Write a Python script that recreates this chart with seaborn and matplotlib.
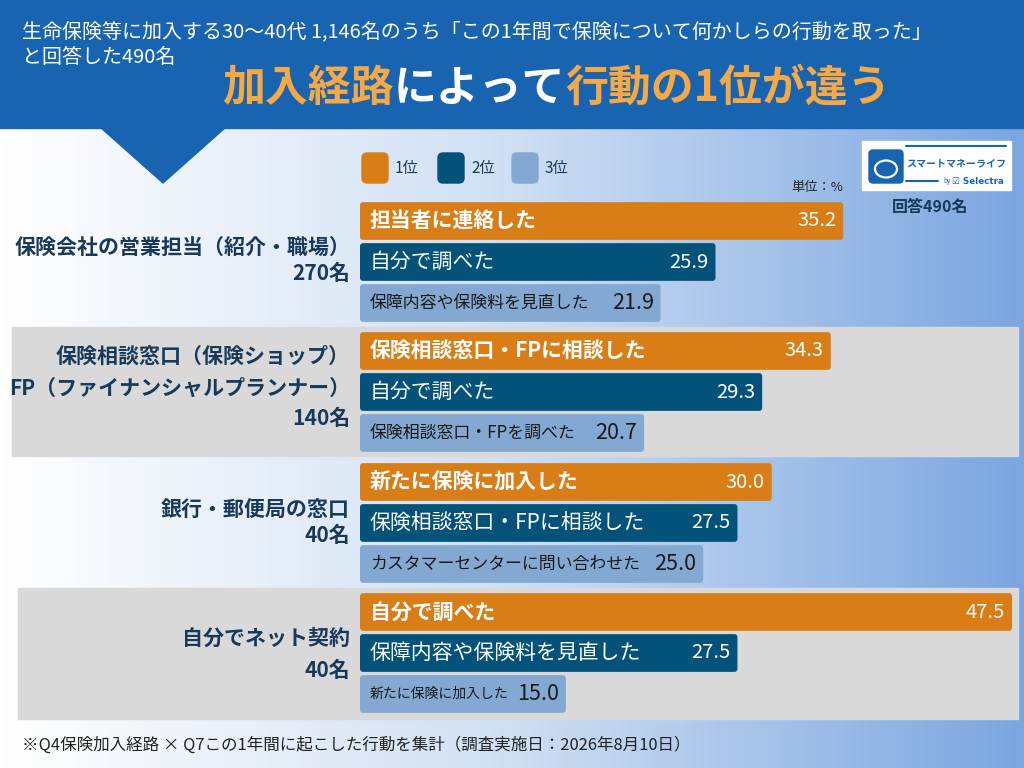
import matplotlib
matplotlib.use("Agg")
import numpy as np
import matplotlib.pyplot as plt
import seaborn as sns
from matplotlib.patches import Rectangle, Polygon, FancyBboxPatch

# data
ranks = ["1位", "2位", "3位"]
routes = [
    "保険会社の営業担当（紹介・職場）\n270名",
    "保険相談窓口（保険ショップ）\nFP（ファイナンシャルプランナー）\n140名",
    "銀行・郵便局の窓口\n40名",
    "自分でネット契約\n40名",
]
actions = [
    ["担当者に連絡した", "自分で調べた", "保障内容や保険料を見直した"],
    ["保険相談窓口・FPに相談した", "自分で調べた", "保険相談窓口・FPを調べた"],
    ["新たに保険に加入した", "保険相談窓口・FPに相談した", "カスタマーセンターに問い合わせた"],
    ["自分で調べた", "保障内容や保険料を見直した", "新たに保険に加入した"],
]
values = [
    [35.2, 25.9, 21.9],
    [34.3, 29.3, 20.7],
    [30.0, 27.5, 25.0],
    [47.5, 27.5, 15.0],
]

ORANGE = "#d97e17"
DARK = "#02527a"
LIGHT = "#83a9d2"
NAVY = "#173a5a"
HEADER = "#1864b1"
TITLE_OR = "#f5a843"
palette = dict(zip(ranks, [ORANGE, DARK, LIGHT]))

sns.set_theme(style="white")
plt.rcParams["font.family"] = ["Noto Sans CJK JP", "DejaVu Sans"]

W, H = 1024, 768
fig = plt.figure(figsize=(W / 100, H / 100), dpi=100)

# background layer in pixel coordinates
bg = fig.add_axes([0, 0, 1, 1])
bg.set_xlim(0, W)
bg.set_ylim(H, 0)
bg.axis("off")
grad = np.linspace(0, 1, 256)[None, :]
cmap = matplotlib.colors.LinearSegmentedColormap.from_list("bg", ["#ffffff", "#cfdff3", "#7ba6e0"])
bg.imshow(grad, cmap=cmap, extent=(0, W, H, 0), aspect="auto", zorder=0)

# header band + pointer
bg.add_patch(Rectangle((0, 0), W, 128, color=HEADER, zorder=1))
bg.add_patch(Polygon([(100, 127), (226, 127), (163, 183)], color=HEADER, zorder=1))
bg.text(22, 32, "生命保険等に加入する30〜40代 1,146名のうち「この1年間で保険について何かしらの行動を取った」",
        color="white", fontsize=14.4, va="center", zorder=2)
bg.text(22, 57, "と回答した490名", color="white", fontsize=14.4, va="center", zorder=2)

t1 = bg.text(222, 88, "加入経路", color=TITLE_OR, fontsize=30.9, fontweight="bold", va="center", zorder=2)
t2 = bg.annotate("によって", xy=(1, 0), xycoords=t1, color="white", fontsize=30.9,
                 fontweight="bold", va="bottom", zorder=2)
bg.annotate("行動の1位が違う", xy=(1, 0), xycoords=t2, color=TITLE_OR, fontsize=30.9,
            fontweight="bold", va="bottom", zorder=2)

# gray group panels
bg.add_patch(Rectangle((12, 327), 1006, 129, color="#d9d9d9", zorder=1))
bg.add_patch(Rectangle((18, 588), 1000, 131, color="#d9d9d9", zorder=1))

# legend
for r, x in zip(ranks, [362, 438, 512]):
    bg.add_patch(FancyBboxPatch((x, 153), 26, 30, boxstyle="round,pad=0,rounding_size=5",
                                color=palette[r], zorder=2))
    bg.text(x + 33, 168, r, color=NAVY, fontsize=11, va="center", zorder=2)
bg.text(843, 188, "単位：%", color="#222222", fontsize=9.5, ha="right", va="center", zorder=2)

# logo
bg.add_patch(Rectangle((862, 141), 149, 49, color="white", zorder=2))
bg.add_patch(FancyBboxPatch((869, 150), 34, 33, boxstyle="round,pad=0,rounding_size=4",
                            color=HEADER, zorder=3))
bg.add_patch(matplotlib.patches.Ellipse((886, 169), 22, 17, facecolor="none",
                                        edgecolor="white", lw=1.6, zorder=4))
bg.plot([906, 1006], [146, 146], color=HEADER, lw=1.5, zorder=3)
bg.plot([906, 938], [181, 181], color=HEADER, lw=1.5, zorder=3)
bg.text(906, 163, "スマートマネーライフ", color=HEADER, fontsize=7.2, fontweight="bold",
        va="center", zorder=3)
bg.text(943, 181, "by", color=HEADER, fontsize=4.5, va="center", zorder=3)
bg.text(952, 181, "☑ Selectra", color=HEADER, fontsize=6.3, fontweight="bold", va="center",
        family=["DejaVu Sans"], zorder=3)
bg.text(930, 207, "回答490名", color=NAVY, fontsize=11.5, fontweight="bold",
        ha="center", va="center", zorder=2)

# footer
bg.text(22, 745, "※Q4保険加入経路 × Q7この1年間に起こした行動を集計（調査実施日：2026年8月10日）",
        color="#222222", fontsize=11.9, va="center", zorder=2)

# group label positions (pixel y of each line)
label_lines = [[247, 273], [356, 388, 418], [509, 535], [638, 670]]

x0, x1 = 360, 1012
xmax = 47.5
centers = [221, 351, 482, 612]
row_h = 41
px_x = (x1 - x0) / xmax

for g in range(4):
    top = centers[g] - row_h / 2
    ax = fig.add_axes([x0 / W, 1 - (top + 3 * row_h) / H, (x1 - x0) / W, 3 * row_h / H])
    ax.patch.set_alpha(0)
    sns.barplot(x=values[g], y=ranks, hue=ranks, palette=palette, order=ranks,
                legend=False, width=0.92, saturation=1, linewidth=0, ax=ax)
    ax.set_xlim(0, xmax)
    ax.set_ylim(2.5, -0.5)
    ax.axis("off")

    # slightly rounded bar corners
    for p in list(ax.patches):
        rb = FancyBboxPatch((p.get_x(), p.get_y()), p.get_width(), p.get_height(),
                            boxstyle=f"round,pad=0,rounding_size={3 / px_x:.3f}",
                            mutation_aspect=px_x / row_h,
                            facecolor=p.get_facecolor(), linewidth=0)
        p.remove()
        ax.add_patch(rb)

    for i, (lab, v) in enumerate(zip(actions[g], values[g])):
        if i == 0:
            lab_kw = dict(color="white", fontsize=15, fontweight="bold")
            val_kw = dict(color="white", fontsize=14.5)
        elif i == 1:
            lab_kw = dict(color="white", fontsize=15)
            val_kw = dict(color="white", fontsize=14.5)
        else:
            small = 10 if g == 3 else 12.2
            lab_kw = dict(color="#1a1a1a", fontsize=small)
            val_kw = dict(color="#1a1a1a", fontsize=15.5)
        ax.annotate(lab, xy=(0, i), xytext=(7, 0), textcoords="offset points",
                    ha="left", va="center", **lab_kw)
        ax.annotate(f"{v:.1f}", xy=(v, i), xytext=(-5, 0), textcoords="offset points",
                    ha="right", va="center", **val_kw)

    for line, y in zip(routes[g].split("\n"), label_lines[g]):
        bg.text(350, y, line, color=NAVY, fontsize=15.1, fontweight="bold",
                ha="right", va="center", zorder=2)

fig.savefig("out.png", dpi=100)
